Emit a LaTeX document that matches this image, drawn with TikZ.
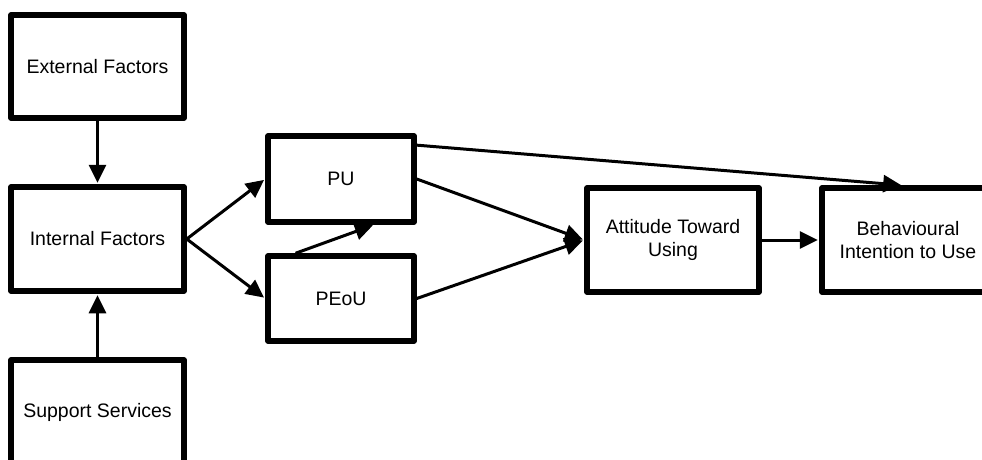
\documentclass[tikz,border=0pt]{standalone}
\usepackage{fontspec}
\setmainfont{Liberation Sans}
\usetikzlibrary{arrows.meta,calc}
\begin{document}
\begin{tikzpicture}[x=1pt,y=-1pt,
  box/.style={draw=black, line width=5.5pt, line join=round, fill=white, inner sep=0pt,
    align=center, font=\fontsize{19.5}{23}\selectfont},
  conn/.style={draw=black, line width=3pt, -{Triangle[length=18pt,width=17pt]}, shorten >=1.5pt}]
\useasboundingbox (0,0) rectangle (982,459);
\clip (0,0) rectangle (982,459);
\node[box, minimum width=173pt, minimum height=103pt] (ext) at (97.5,66.5) {External Factors};
\node[box, minimum width=173pt, minimum height=104pt] (int) at (97.5,239) {Internal Factors};
\node[box, minimum width=173pt, minimum height=104pt] (sup) at (97.5,412) {Support Services};
\node[box, minimum width=146pt, minimum height=86pt] (pu) at (341,179) {PU};
\node[box, minimum width=146pt, minimum height=85pt] (peou) at (341,298.5) {PEoU};
\node[box, minimum width=172pt, minimum height=104pt] (att) at (673,240) {Attitude Toward\\Using};
\node[box, minimum width=172pt, minimum height=104pt] (bi) at (908,240) {Behavioural\\Intention to Use};
\coordinate (puhi) at ($(pu.north east)!0.13!(pu.south east)$);
\coordinate (bitop) at ($(bi.north west)!0.47!(bi.north east)$);
\coordinate (peoutop) at ($(peou.north west)!0.2!(peou.north east)$);
\coordinate (pubot) at ($(pu.south west)!0.72!(pu.south east)$);
\draw[conn] (ext) -- (int);
\draw[conn] (sup) -- (int);
\draw[conn] (int.east) -- (pu.west);
\draw[conn] (int.east) -- (peou.west);
\draw[conn] (pu.east) -- (att.west);
\draw[conn] (peou.east) -- (att.west);
\draw[conn] (peoutop) -- (pubot);
\draw[conn] (puhi) -- (bitop);
\draw[conn] (att) -- (bi);
\end{tikzpicture}
\end{document}
